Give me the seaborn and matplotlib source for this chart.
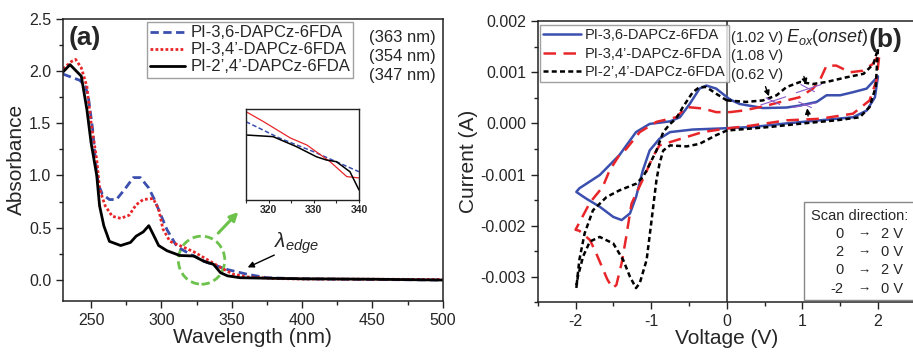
import numpy as np
import matplotlib
matplotlib.use("Agg")
import matplotlib.pyplot as plt
import seaborn as sns
from matplotlib.patches import Ellipse, Rectangle
from matplotlib.ticker import MultipleLocator, FormatStrFormatter

# ---- panel (a): UV-vis absorbance ----
wl_36 = [230, 236, 242, 246, 248, 251, 253, 255, 258, 263, 268, 274, 280, 285, 291, 295, 299, 304, 311,
         320, 332, 347, 361, 375, 400, 450, 500]
abs_36 = [1.97, 1.94, 1.91, 1.85, 1.75, 1.45, 1.15, 0.92, 0.82, 0.77, 0.77, 0.87, 0.98, 0.98, 0.88, 0.77,
          0.64, 0.48, 0.32, 0.25, 0.17, 0.10, 0.055, 0.022, 0.012, 0.005, 0.0]

wl_34 = [230, 236, 239, 243, 247, 250, 254, 256, 260, 265, 271, 277, 282, 287, 294, 298, 301, 306, 313,
         323, 332, 342, 351, 361, 380, 400, 450, 500]
abs_34 = [2.02, 2.09, 2.11, 2.03, 1.85, 1.50, 1.15, 0.87, 0.71, 0.61, 0.59, 0.62, 0.72, 0.77, 0.78, 0.68,
          0.49, 0.37, 0.33, 0.27, 0.20, 0.12, 0.055, 0.03, 0.015, 0.01, 0.008, 0.005]

wl_24 = [230, 235, 243, 247, 250, 254, 256, 259, 263, 271, 278, 282, 287, 291, 294, 298, 304, 313, 323,
         330, 337, 342, 347, 356, 400, 450, 500]
abs_24 = [1.99, 2.06, 1.95, 1.63, 1.31, 1.0, 0.71, 0.52, 0.37, 0.33, 0.36, 0.42, 0.46, 0.52, 0.44, 0.33,
          0.28, 0.235, 0.23, 0.18, 0.15, 0.07, 0.04, 0.022, 0.012, 0.008, 0.0]

edge_labels = ["(363 nm)", "(354 nm)", "(347 nm)"]

# inset, zoomed 315-340 nm
in_wl_36 = [315, 322.5, 329.9, 340]
in_abs_36 = [0.321, 0.270, 0.229, 0.167]
in_wl_34 = [315, 318.9, 324.8, 328.5, 333.6, 337.3, 340]
in_abs_34 = [0.352, 0.321, 0.271, 0.249, 0.198, 0.152, 0.148]
in_wl_24 = [315, 321, 326.2, 330.6, 332.8, 335, 338, 340]
in_abs_24 = [0.280, 0.275, 0.244, 0.213, 0.203, 0.198, 0.167, 0.111]

# ---- panel (b): cyclic voltammetry (current in mA) ----
v_36 = [0.04, 0.17, 0.48, 0.79, 0.97, 1.19, 1.32, 1.5, 1.67, 1.85, 2.0, 1.96, 1.85, 1.67, 1.23, 0.79, 0.35,
        -0.09, -0.45, -0.75, -0.89, -1.02, -1.11, -1.2, -1.28, -1.39, -1.5, -1.68, -1.86, -1.99, -1.95,
        -1.68, -1.42, -1.2, -1.02, -0.75, -0.62, -0.49, -0.36, -0.27, -0.14, 0.04]
i_36 = [0.47, 0.38, 0.30, 0.31, 0.35, 0.42, 0.55, 0.55, 0.61, 0.68, 0.92, 0.51, 0.25, 0.12, 0.06, 0.0, -0.07,
        -0.10, -0.12, -0.17, -0.30, -0.53, -0.92, -1.44, -1.76, -1.89, -1.83, -1.63, -1.47, -1.34, -1.27,
        -1.01, -0.62, -0.17, -0.01, 0.04, 0.12, 0.38, 0.68, 0.74, 0.68, 0.47]

v_34 = [0.04, 0.21, 0.48, 0.74, 0.96, 1.14, 1.23, 1.32, 1.45, 1.63, 1.8, 1.93, 2.02, 1.98, 1.89, 1.67, 1.23,
        0.79, 0.34, 0.0, -0.32, -0.67, -0.89, -0.98, -1.08, -1.26, -1.33, -1.39, -1.46, -1.51, -1.58, -1.73,
        -1.81, -1.95, -2.0, -1.95, -1.81, -1.64, -1.55, -1.42, -1.33, -1.15, -0.93, -0.67, -0.53, -0.31,
        -0.14, 0.04]
i_34 = [0.22, 0.25, 0.33, 0.43, 0.51, 0.68, 0.84, 1.13, 1.13, 1.0, 1.03, 1.16, 1.36, 0.84, 0.45, 0.19, 0.09,
        0.06, -0.04, -0.10, -0.17, -0.33, -0.43, -0.66, -1.0, -1.57, -2.22, -2.73, -3.16, -3.22, -3.05, -2.53,
        -2.28, -2.10, -2.08, -1.94, -1.55, -1.24, -0.92, -0.62, -0.50, -0.17, 0.03, 0.12, 0.32, 0.29,
        0.22, 0.22]

v_24 = [0.0, 0.26, 0.48, 0.66, 0.79, 0.97, 1.14, 1.32, 1.58, 1.81, 1.94, 2.0, 1.97, 1.89, 1.76, 1.45, 1.01,
        0.57, 0.0, -0.14, -0.36, -0.53, -0.75, -0.84, -0.89, -0.93, -1.0, -1.06, -1.15, -1.2, -1.28, -1.37,
        -1.5, -1.68, -1.81, -1.9, -1.97, -1.99, -1.95, -1.88, -1.77, -1.59, -1.42, -1.2, -1.11, -1.06,
        -0.93, -0.84, -0.75, -0.67, -0.58, -0.45, -0.36, -0.27, -0.14, 0.0]
i_24 = [0.45, 0.42, 0.45, 0.55, 0.71, 0.81, 0.77, 0.81, 0.90, 0.97, 1.16, 1.46, 0.71, 0.32, 0.12, 0.06, 0.0,
        -0.07, -0.14, -0.23, -0.40, -0.45, -0.43, -0.53, -0.79, -1.11, -1.96, -2.67, -3.12, -3.22, -3.0,
        -2.67, -2.35, -2.22, -2.31, -2.60, -3.0, -3.22, -2.67, -2.15, -1.70, -1.44, -1.31, -1.18, -1.05,
        -0.92, -0.53, -0.17, -0.01, 0.09, 0.32, 0.61, 0.71, 0.71, 0.58, 0.45]

onset_labels = ["(1.02 V)", "(1.08 V)", "(0.62 V)"]
scan_from = ["0", "2", "0", "-2"]
scan_to = ["2 V", "0 V", "2 V", "0 V"]

names = ["PI-3,6-DAPCz-6FDA", "PI-3,4\u2019-DAPCz-6FDA", "PI-2\u2019,4\u2019-DAPCz-6FDA"]

sns.set_theme(style="ticks")
plt.rcParams["font.family"] = ["Liberation Sans", "DejaVu Sans"]
plt.rcParams["mathtext.fontset"] = "custom"
plt.rcParams["mathtext.it"] = "Liberation Sans:italic"
plt.rcParams["mathtext.rm"] = "Liberation Sans"
plt.rcParams["axes.unicode_minus"] = False

blue = "#3b4fae"
red = "#e8262a"

fig = plt.figure(figsize=(9.13, 3.52), dpi=100)
ax1 = fig.add_axes([0.069, 0.145, 0.416, 0.802])
ax2 = fig.add_axes([0.589, 0.141, 0.414, 0.799])
axin = fig.add_axes([0.2694, 0.4318, 0.1238, 0.2585])


def style_axes(ax):
    for s in ax.spines.values():
        s.set_linewidth(1.1)
        s.set_color("#222222")
    ax.tick_params(which="major", direction="out", length=5, width=1, labelsize=11.5,
                   top=False, right=False, color="#222222")
    ax.tick_params(which="minor", direction="out", length=3, width=1,
                   top=False, right=False, color="#222222")


# ---- (a) ----
sns.lineplot(x=wl_36, y=abs_36, ax=ax1, color=blue, lw=2, linestyle=(0, (3, 1.6)), label=names[0])
sns.lineplot(x=wl_34, y=abs_34, ax=ax1, color=red, lw=2, linestyle=(0, (1, 0.8)), label=names[1])
sns.lineplot(x=wl_24, y=abs_24, ax=ax1, color="black", lw=2, label=names[2])
ax1.set_xlim(230, 500)
ax1.set_ylim(-0.2, 2.5)
ax1.xaxis.set_major_locator(MultipleLocator(50))
ax1.xaxis.set_minor_locator(MultipleLocator(25))
ax1.yaxis.set_major_locator(MultipleLocator(0.5))
ax1.yaxis.set_minor_locator(MultipleLocator(0.25))
ax1.yaxis.set_major_formatter(FormatStrFormatter("%.1f"))
style_axes(ax1)
ax1.set_xlabel("Wavelength (nm)", fontsize=15, labelpad=0)
ax1.set_ylabel("Absorbance", fontsize=15, labelpad=2)
leg1 = ax1.legend(loc="upper left", bbox_to_anchor=(0.221, 0.988), borderaxespad=0, fontsize=12,
                  frameon=True, fancybox=False, edgecolor="#888888", handlelength=2.1,
                  handletextpad=0.3, labelspacing=0.12, borderpad=0.2)
leg1.get_frame().set_linewidth(1)
for k, t in enumerate(edge_labels):
    ax1.text(0.806, 0.932 - k * 0.067, t, transform=ax1.transAxes, fontsize=12, va="center")
ax1.text(0.014, 0.93, "(a)", transform=ax1.transAxes, fontsize=19, fontweight="bold", va="center")

ax1.add_patch(Ellipse((328.5, 0.19), 33, 0.46, fill=False, edgecolor="#6cc24a", lw=2,
                      linestyle=(0, (3, 1.5))))
ax1.annotate("", xy=(356, 0.67), xytext=(339, 0.43),
             arrowprops=dict(arrowstyle="-|>", color="#6cc24a", lw=2.2, mutation_scale=12))
ax1.annotate("", xy=(359.5, 0.11), xytext=(382, 0.25),
             arrowprops=dict(arrowstyle="-|>", color="black", lw=1, mutation_scale=9))
ax1.text(380, 0.35, r"$\lambda_{edge}$", fontsize=15, va="center")

sns.lineplot(x=in_wl_36, y=in_abs_36, ax=axin, color=blue, lw=1.1, linestyle=(0, (3, 1.6)))
sns.lineplot(x=in_wl_34, y=in_abs_34, ax=axin, color=red, lw=0.9)
sns.lineplot(x=in_wl_24, y=in_abs_24, ax=axin, color="black", lw=1.1)
axin.set_xlim(315, 340)
axin.set_ylim(0.08, 0.36)
axin.set_yticks([])
axin.xaxis.set_major_locator(MultipleLocator(10))
axin.xaxis.set_minor_locator(MultipleLocator(5))
for s in axin.spines.values():
    s.set_linewidth(1)
    s.set_color("#222222")
axin.tick_params(which="both", direction="out", length=2.5, width=0.8, labelsize=7.5, pad=1)
for lab in axin.get_xticklabels():
    lab.set_fontweight("bold")

# ---- (b) ----
sns.lineplot(x=v_36, y=np.array(i_36) * 1e-3, ax=ax2, color=blue, lw=1.8, sort=False,
             estimator=None, label=names[0])
sns.lineplot(x=v_34, y=np.array(i_34) * 1e-3, ax=ax2, color=red, lw=1.8, sort=False,
             estimator=None, linestyle=(0, (5, 3)), label=names[1])
sns.lineplot(x=v_24, y=np.array(i_24) * 1e-3, ax=ax2, color="black", lw=1.8, sort=False,
             estimator=None, linestyle=(0, (2, 1.3)), label=names[2])
ax2.axvline(0, color="#222222", lw=1.1, zorder=0)
ax2.set_xlim(-2.5, 2.5)
ax2.set_ylim(-0.0035, 0.002)
ax2.xaxis.set_major_locator(MultipleLocator(1))
ax2.xaxis.set_minor_locator(MultipleLocator(0.5))
ax2.yaxis.set_major_locator(MultipleLocator(0.001))
ax2.yaxis.set_minor_locator(MultipleLocator(0.0005))
ax2.yaxis.set_major_formatter(FormatStrFormatter("%.3f"))
style_axes(ax2)
ax2.set_xlabel("Voltage (V)", fontsize=15, labelpad=0)
ax2.set_ylabel("Current (A)", fontsize=15, labelpad=2)
leg2 = ax2.legend(loc="upper left", bbox_to_anchor=(0.006, 0.986), borderaxespad=0, fontsize=10.5,
                  frameon=True, fancybox=False, edgecolor="#888888", handlelength=2.6,
                  handletextpad=0.3, labelspacing=0.32, borderpad=0.2)
leg2.get_frame().set_linewidth(1)
for k, t in enumerate(onset_labels):
    ax2.text(0.05, 0.00167 - k * 0.00036, t, fontsize=10.5, va="center")
ax2.text(0.79, 0.00167, r"$E_{ox}(onset)$", fontsize=13, va="center")
ax2.text(1.88, 0.00164, "(b)", fontsize=19, fontweight="bold", va="center")

arrow_kw = dict(arrowstyle="-|>", color="black", lw=1, mutation_scale=8)
ax2.annotate("", xy=(0.57, 0.00048), xytext=(0.50, 0.00077), arrowprops=arrow_kw)
ax2.annotate("", xy=(1.06, 0.00071), xytext=(1.01, 0.00097), arrowprops=arrow_kw)
ax2.annotate("", xy=(1.06, 0.00035), xytext=(1.08, 0.00009), arrowprops=arrow_kw)
purple = "#8a5cc8"
for (xa, ya, xb, yb) in [(0.45, 0.00036, 0.78, 0.00052), (0.52, 0.00050, 0.70, 0.00037),
                         (0.92, 0.00060, 1.25, 0.00076), (0.98, 0.00076, 1.16, 0.00062),
                         (0.86, 0.00031, 1.18, 0.00040), (0.95, 0.00042, 1.12, 0.00031)]:
    ax2.plot([xa, xb], [ya, yb], color=purple, lw=0.8)

ax2.add_patch(Rectangle((1.02, -0.00345), 2.0, 0.00191, facecolor="white", edgecolor="#888888",
                        lw=1, clip_on=False, zorder=3))
ax2.text(1.11, -0.00181, "Scan direction:", fontsize=10.5, va="center", zorder=4)
for k in range(4):
    yy = -0.00216 - k * 0.000357
    ax2.text(1.545, yy, scan_from[k], fontsize=10.5, va="center", ha="right", zorder=4)
    ax2.text(1.82, yy, "\u2192", fontsize=9.5, va="center", ha="center", zorder=4)
    ax2.text(2.035, yy, scan_to[k], fontsize=10.5, va="center", ha="left", zorder=4)

fig.savefig("out.png", dpi=100)
